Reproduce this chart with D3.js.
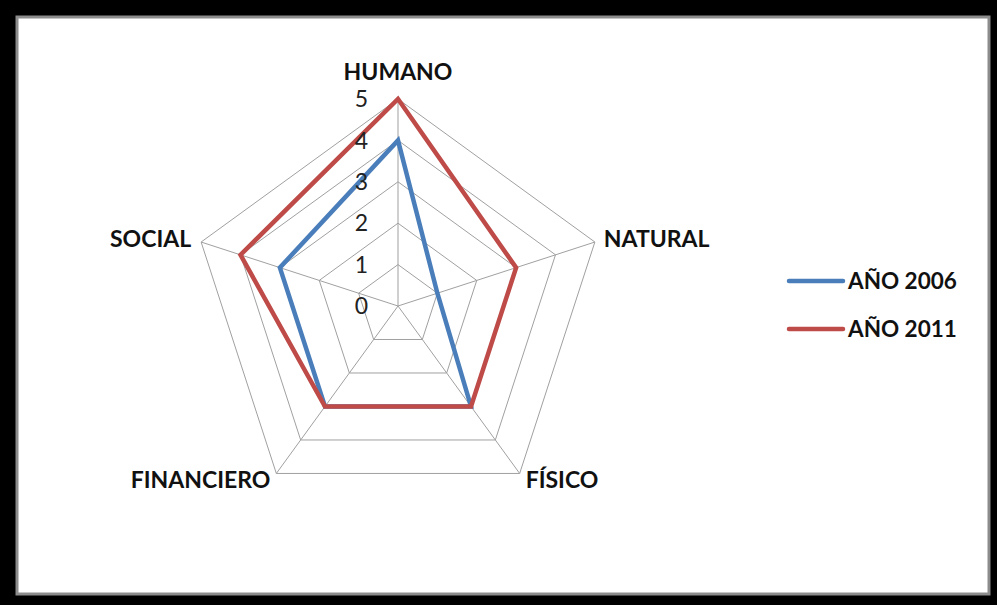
<!DOCTYPE html>
<html>
<head>
<meta charset="utf-8">
<script src="https://cdn.jsdelivr.net/npm/d3@7"></script>
<style>
  html, body { margin: 0; padding: 0; background: #000; }
  svg { display: block; }
</style>
</head>
<body>
<div id="chart"></div>
<script>
// Radar chart: capitales 2006 vs 2011

const categories = ['HUMANO', 'NATURAL', 'FÍSICO', 'FINANCIERO', 'SOCIAL'];
const ticks = [0, 1, 2, 3, 4, 5];
const seriesNames = ['AÑO 2006', 'AÑO 2011'];
const values2006 = [4, 1, 3, 3, 3];
const values2011 = [5, 3, 3, 3, 4];
const seriesColors = ['#4a7ebb', '#be4b48'];

const W = 997, H = 605;
const cx = 398, cy = 306, R = 207;

const svg = d3.select('#chart').append('svg')
  .attr('width', W)
  .attr('height', H);

// Frame: black border, grey inner edge, white plot area
svg.append('rect').attr('width', W).attr('height', H).attr('fill', '#000');
svg.append('rect')
  .attr('x', 17).attr('y', 17)
  .attr('width', 972).attr('height', 577)
  .attr('fill', '#fff')
  .attr('stroke', '#8c8c8c')
  .attr('stroke-width', 3);

const r = d3.scaleLinear().domain([0, 5]).range([0, R]);
const angle = d3.scalePoint().domain(categories).range([0, 2 * Math.PI * 4 / 5]);

const pt = (cat, v) => {
  const a = angle(cat) - Math.PI / 2;
  return [cx + r(v) * Math.cos(a), cy + r(v) * Math.sin(a)];
};

const g = svg.append('g');

// Grid rings
g.append('g').selectAll('polygon')
  .data(ticks.slice(1)).join('polygon')
  .attr('points', t => categories.map(c => pt(c, t).join(',')).join(' '))
  .attr('fill', 'none')
  .attr('stroke', '#a0a0a0')
  .attr('stroke-width', 1);

// Spokes
g.append('g').selectAll('line')
  .data(categories).join('line')
  .attr('x1', cx).attr('y1', cy)
  .attr('x2', c => pt(c, 5)[0])
  .attr('y2', c => pt(c, 5)[1])
  .attr('stroke', '#a0a0a0')
  .attr('stroke-width', 1);

// Series
const series = [values2006, values2011];
const lineGen = d3.lineRadial()
  .angle((d, i) => angle(categories[i]))
  .radius(d => r(d))
  .curve(d3.curveLinearClosed);

g.append('g').attr('transform', `translate(${cx},${cy})`)
  .selectAll('path')
  .data(series).join('path')
  .attr('d', d => lineGen(d))
  .attr('fill', 'none')
  .attr('stroke', (d, i) => seriesColors[i])
  .attr('stroke-width', 4.5)
  .attr('stroke-linejoin', 'miter');

// Tick labels along HUMANO axis
g.append('g').selectAll('text')
  .data(ticks).join('text')
  .attr('x', cx - 30)
  .attr('y', t => cy - r(t))
  .attr('dy', '0.36em')
  .attr('text-anchor', 'end')
  .attr('font-family', 'Lato, sans-serif')
  .attr('font-size', 23)
  .attr('fill', '#222')
  .text(t => t);

// Category labels
const labelPos = {
  'HUMANO':     { dx: 0,   dy: -19, anchor: 'middle' },
  'NATURAL':    { dx: 9,   dy: 5,   anchor: 'start' },
  'FÍSICO':     { dx: 6,   dy: 15,  anchor: 'start' },
  'FINANCIERO': { dx: -6,  dy: 15,  anchor: 'end' },
  'SOCIAL':     { dx: -10, dy: 5,   anchor: 'end' },
};

g.append('g').selectAll('text')
  .data(categories).join('text')
  .attr('x', c => pt(c, 5)[0] + labelPos[c].dx)
  .attr('y', c => pt(c, 5)[1] + labelPos[c].dy)
  .attr('text-anchor', c => labelPos[c].anchor)
  .attr('font-family', 'Lato, sans-serif')
  .attr('font-weight', 700)
  .attr('font-size', 23)
  .attr('fill', '#111')
  .text(c => c);

// Legend
const legend = svg.append('g').attr('transform', 'translate(789,281)');
const item = legend.selectAll('g')
  .data(seriesNames).join('g')
  .attr('transform', (d, i) => `translate(0,${i * 48})`);

item.append('line')
  .attr('x1', 0).attr('x2', 54)
  .attr('stroke', (d, i) => seriesColors[i])
  .attr('stroke-width', 4.5)
  .attr('stroke-linecap', 'round');

item.append('text')
  .attr('x', 59)
  .attr('y', 7.5)
  .attr('font-family', 'Lato, sans-serif')
  .attr('font-weight', 700)
  .attr('font-size', 22.5)
  .attr('fill', '#111')
  .text(d => d);
</script>
</body>
</html>
